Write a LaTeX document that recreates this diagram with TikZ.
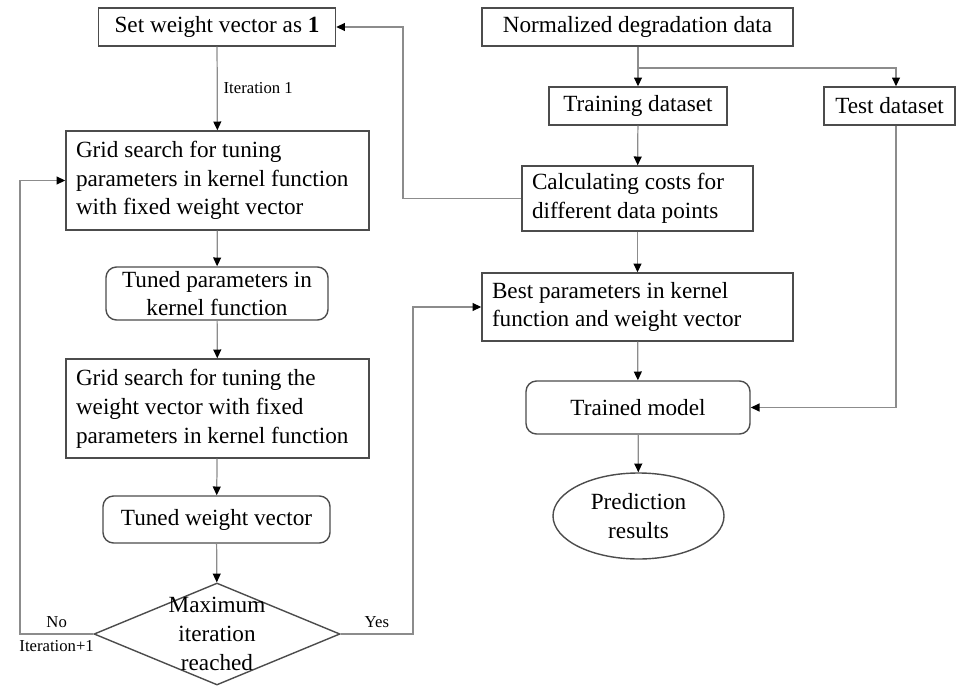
\documentclass[tikz,border=0pt]{standalone}
\usepackage{fontspec}
\setmainfont{Liberation Serif}
\usetikzlibrary{arrows.meta, shapes.geometric}

\begin{document}
\begin{tikzpicture} [font=\fontsize{13.2}{16.4}\selectfont,
  box/.style={rectangle, draw=black!70, line width=0.8pt, inner sep=0pt},
  lbox/.style={box, inner xsep=0.2cm, align=flush left},
  rbox/.style={box, rounded corners=6pt, align=center},
  flow/.style={draw=black!45, line width=0.7pt, -{Triangle[black, length=5pt, width=4.5pt]}},
  note/.style={font=\fontsize{9.5}{11}\selectfont}]
\useasboundingbox (0, 0) rectangle (19.12, -13.72);

% left column: tuning loop
\path (4.34, -0.54) node[box, minimum width=4.74cm, minimum height=0.76cm] (setw) {Set weight vector as \textbf{1}}
      (4.35, -3.61) node[lbox, text width=5.66cm, minimum height=1.98cm] (grid1) {Grid search for tuning\\parameters in kernel function\\with fixed weight vector}
      (4.34, -5.87) node[rbox, minimum width=4.44cm, minimum height=1.06cm] (tunedp) {Tuned parameters in\\kernel function}
      (4.35, -8.17) node[lbox, text width=5.66cm, minimum height=1.98cm] (grid2) {Grid search for tuning the\\weight vector with fixed\\parameters in kernel function}
      (4.33, -10.39) node[rbox, minimum width=4.54cm, minimum height=0.94cm] (tunedw) {Tuned weight vector}
      (4.34, -12.68) node[diamond, draw=black!70, line width=0.8pt, inner sep=0pt, minimum width=4.92cm, minimum height=2.04cm,
                          label={[align=center]center:Maximum\\iteration\\reached}] (dec) {};

% right column: data and model
\path (12.75, -0.54) node[box, minimum width=6.22cm, minimum height=0.76cm] (norm) {Normalized degradation data}
      (12.76, -2.12) node[box, minimum width=3.56cm, minimum height=0.76cm] (train) {Training dataset}
      (17.79, -2.12) node[box, minimum width=2.62cm, minimum height=0.76cm] (test) {Test dataset}
      (12.75, -3.97) node[lbox, text width=4.22cm, minimum height=1.3cm] (calc) {Calculating costs for\\different data points}
      (12.75, -6.14) node[lbox, text width=5.82cm, minimum height=1.36cm] (best) {Best parameters in kernel\\function and weight vector}
      (12.76, -8.15) node[rbox, minimum width=4.48cm, minimum height=1.06cm] (trained) {Trained model}
      (12.77, -10.32) node[ellipse, draw=black!70, line width=0.8pt, inner sep=0pt, minimum width=3.42cm, minimum height=1.72cm, align=center] (pred) {Prediction\\results};

\coordinate (split) at (12.76, -1.36);
\coordinate (tx) at (17.92, -1.36);
\coordinate (lx) at (0.4, 0);
\coordinate (rx) at (8.26, 0);
\coordinate (cx) at (8.06, 0);

\draw[flow] (setw) to node[note, right] {Iteration 1} (grid1);
\draw[flow] (grid1) to (tunedp);
\draw[flow] (tunedp) to (grid2);
\draw[flow] (grid2) to (tunedw);
\draw[flow] (tunedw) to (dec);
\draw[flow] (dec.west) -- node[note, above] {No} node[note, below] {Iteration+1} (dec.west -| lx) |- (grid1.west);
\draw[flow] (dec.east) -- node[note, above] {Yes} (dec.east -| rx) |- (best.west);

\draw[flow] (norm.south -| split) -- (split) -- (train);
\draw[flow] (split) -| (test.north -| tx);
\draw[flow] (train) to (calc);
\draw[flow] (calc.west) -- (calc.west -| cx) |- (setw.east);
\draw[flow] (calc) to (best);
\draw[flow] (best) to (trained);
\draw[flow] (test.south -| tx) |- (trained.east);
\draw[flow] (trained) to (pred);

\end{tikzpicture}
\end{document}
